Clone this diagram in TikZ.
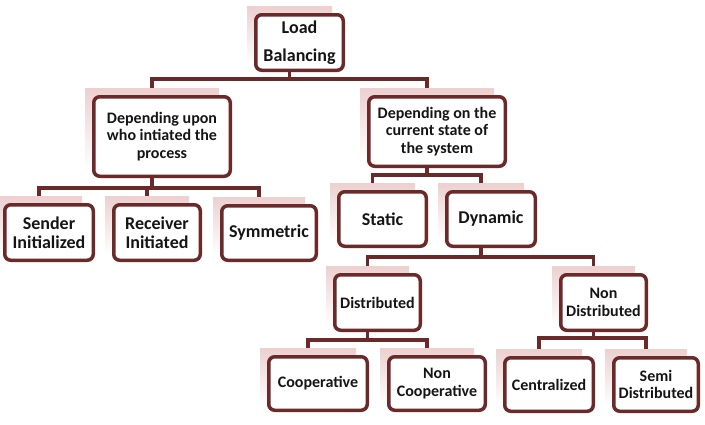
\documentclass[tikz,border=0pt]{standalone}
\usepackage{fontspec}
\setmainfont{Carlito}
\usepackage{xcolor}
\definecolor{boxmaroon}{HTML}{6B2A2A}
\definecolor{shadepink}{HTML}{EDD0D0}
\definecolor{inkdark}{HTML}{151515}

\begin{document}
\begin{tikzpicture}[x=1pt, y=-1pt,
  card/.style={draw=boxmaroon, line width=3.5pt, rounded corners=6pt, fill=white,
    align=center, inner sep=0pt, text=inkdark},
  glow/.style={top color=shadepink, bottom color=white, inner sep=0pt},
  big/.style={font=\fontsize{18}{19.5}\selectfont\bfseries},
  small/.style={font=\fontsize{16}{17.5}\selectfont\bfseries},
  link/.style={draw=boxmaroon, line width=3.5pt}]
  \useasboundingbox (0,0) rectangle (705,424);
  % boxes, each with its pale shadow up and to the left
  \foreach \nm/\cx/\cy/\bw/\bh/\fs/\txt in {
    lb/299.5/42.5/91/59/big/{Load\\[9pt]Balancing},
    d1/162/136.5/140/83/small/{Depending upon\\who intiated the\\process},
    d2/437/131.5/140/73/small/{Depending on the\\current state of\\the system},
    snd/49/232.5/92/59/big/{Sender\\Initialized},
    rcv/157/232.5/90/59/big/{Receiver\\Initiated},
    sym/269/233/98/58/big/{Symmetric},
    sta/382.5/219/91/58/big/{Static},
    dyn/491/219/92/58/big/{Dynamic},
    dis/377.5/302.5/89/59/small/{Distributed},
    ndis/603.5/302.5/89/59/small/{Non\\Distributed},
    coop/318/383.5/102/57/small/{Cooperative},
    ncoop/437/383.5/100/57/small/{Non\\Cooperative},
    cent/549/384.5/92/57/small/{Centralized},
    semi/656/384.5/88/57/small/{Semi\\Distributed}} {
    \node[glow, minimum width={(\bw-6)*1pt}, minimum height={\bh*1pt}] (\nm-sh) at (\cx-10,\cy-7) {};
    \node[card, \fs, minimum width={(\bw-3.5)*1pt}, minimum height={(\bh-3.5)*1pt}] (\nm) at (\cx,\cy) {\txt};
  }
  % elbow connectors
  \foreach \pn/\yb/\kids in {lb/79/{d1,d2}, d1/188/{snd,rcv,sym}, d2/175/{sta,dyn},
      dyn/257/{dis,ndis}, dis/340/{coop,ncoop}, ndis/338/{cent,semi}} {
    \coordinate (\pn-j) at (\pn-sh.south |- 0,\yb);
    \draw[link] (\pn.south -| \pn-sh.south) -- (\pn-j);
    \foreach \kn in \kids
      \draw[link] (\pn-j) -| (\kn-sh.north);
  }
\end{tikzpicture}
\end{document}
